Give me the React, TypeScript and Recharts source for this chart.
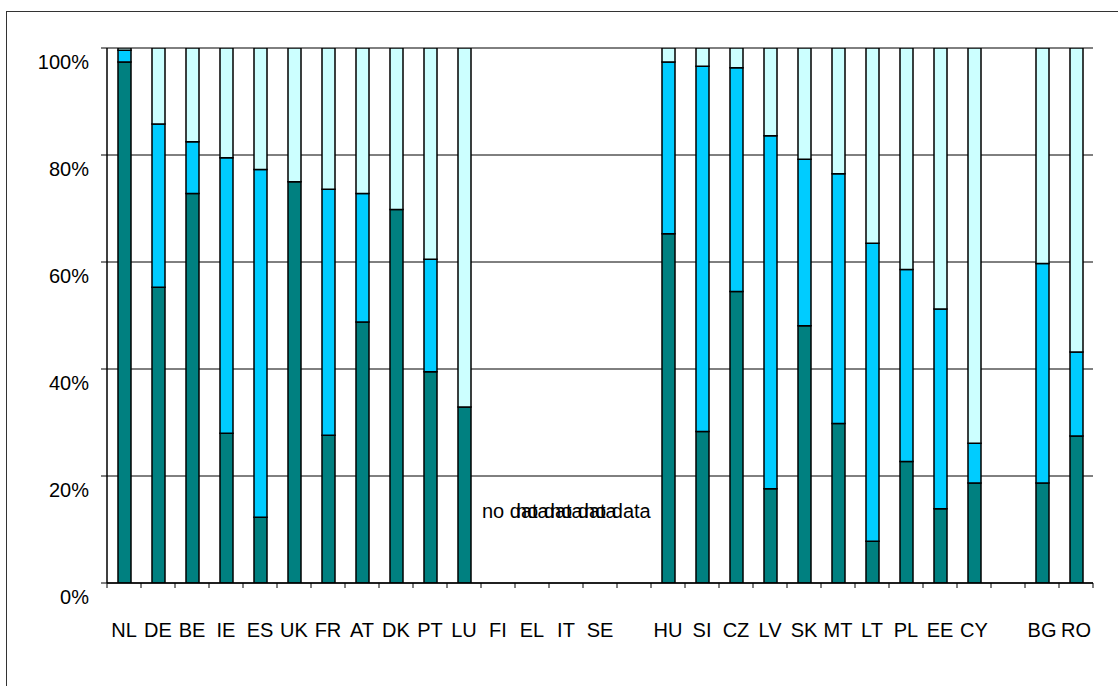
import { BarChart, Bar, XAxis, YAxis, CartesianGrid, ReferenceDot } from "recharts";

// country order as in the figure, "" = empty gap slot
const categories = [
  "NL", "DE", "BE", "IE", "ES", "UK", "FR", "AT", "DK", "PT", "LU", "FI", "EL", "IT", "SE",
  "",
  "HU", "SI", "CZ", "LV", "SK", "MT", "LT", "PL", "EE", "CY",
  "",
  "BG", "RO",
];

// shares in %, bottom -> top
const lower  = [97.4, 55.3, 72.8, 28.0, 12.3, 75.0, 27.6, 48.8, 69.8, 39.5, 32.9, 0, 0, 0, 0, 0, 65.3, 28.3, 54.5, 17.6, 48.1, 29.8, 7.8, 22.7, 13.9, 18.7, 0, 18.7, 27.5];
const middle = [2.2, 30.5, 9.7, 51.5, 65.0, 0, 46.0, 24.0, 0, 21.0, 0, 0, 0, 0, 0, 0, 32.1, 68.3, 41.8, 66.0, 31.1, 46.7, 55.7, 35.9, 37.3, 7.4, 0, 41.0, 15.7];
const upper  = [0.4, 14.2, 17.5, 20.5, 22.7, 25.0, 26.4, 27.2, 30.2, 39.5, 67.1, 0, 0, 0, 0, 0, 2.6, 3.4, 3.7, 16.4, 20.8, 23.5, 36.5, 41.4, 48.8, 73.9, 0, 40.3, 56.8];

const noDataCountries = ["FI", "EL", "IT", "SE"];
const noDataLevel = 13.5;

const yTicks = [0, 20, 40, 60, 80, 100];

const data = categories.map((name, i) => ({
  key: `${name || "gap"}-${i}`,
  name,
  lower: lower[i],
  middle: middle[i],
  upper: upper[i],
}));

const W = 1118;
const H = 686;
const M = { top: 48, right: 25, left: 0, bottom: 63 };
const Y_W = 107;
const SLOT = (W - M.left - M.right - Y_W) / categories.length;
const FONT = "'Liberation Sans', Arial, sans-serif";

function XTick(props: any) {
  const { x, y, payload, index, visibleTicksCount } = props;
  const label = categories[index] ?? "";
  const last = index === visibleTicksCount - 1;
  return (
    <g>
      <line x1={x - SLOT / 2} x2={x - SLOT / 2} y1={y} y2={y + 5} stroke="#000" />
      {last && <line x1={x + SLOT / 2} x2={x + SLOT / 2} y1={y} y2={y + 5} stroke="#000" />}
      <text x={x} y={y + 47} textAnchor="middle" dominantBaseline="central"
        fontFamily={FONT} fontSize={20} fill="#000" data-k={payload?.value}>
        {label}
      </text>
    </g>
  );
}

function YTick(props: any) {
  const { x, y, payload } = props;
  return (
    <text x={x} y={y + 14} textAnchor="end" dominantBaseline="central"
      fontFamily={FONT} fontSize={20} fill="#000">
      {`${payload.value}%`}
    </text>
  );
}

function NoDataLabel(props: any) {
  const { viewBox } = props;
  const cx = viewBox?.x ?? 0;
  const cy = viewBox?.y ?? 0;
  return (
    <text x={cx - 16} y={cy} textAnchor="start" dominantBaseline="central"
      fontFamily={FONT} fontSize={20} fill="#000">
      no data
    </text>
  );
}

export default function App() {
  return (
    <div style={{ position: "absolute", left: 0, top: 0, width: W, height: H, overflow: "hidden", background: "#fff" }}>
      <div style={{
        position: "absolute", left: 6, top: 11, width: 1300, height: 900,
        borderLeft: "1.5px solid #333", borderTop: "1.5px solid #333",
      }} />
      <div style={{ position: "absolute", left: 0, top: 0 }}>
        <BarChart width={W} height={H} data={data} margin={M} barSize={13}>
          <CartesianGrid vertical={false} stroke="#000" strokeWidth={1} />
          <XAxis dataKey="key" interval={0} tickLine={false} tickSize={0} tickMargin={0}
            axisLine={{ stroke: "#000", strokeWidth: 1.5 }} tick={<XTick />} height={40} />
          <YAxis domain={[0, 100]} ticks={yTicks} width={Y_W} tickSize={6} tickMargin={12}
            tickLine={{ stroke: "#000" }} axisLine={{ stroke: "#000", strokeWidth: 1.5 }}
            tick={<YTick />} allowDataOverflow />
          <YAxis yAxisId="frame" orientation="right" domain={[0, 100]} width={0}
            tick={false} tickLine={false} axisLine={{ stroke: "#000", strokeWidth: 1.5 }} />
          <Bar dataKey="lower" stackId="s" fill="#008080" stroke="#000" strokeWidth={1.5} isAnimationActive={false} />
          <Bar dataKey="middle" stackId="s" fill="#00CCFF" stroke="#000" strokeWidth={1.5} isAnimationActive={false} />
          <Bar dataKey="upper" stackId="s" fill="#CCFFFF" stroke="#000" strokeWidth={1.5} isAnimationActive={false} />
          {noDataCountries.map((c) => {
            const row = data.find((d) => d.name === c)!;
            return (
              <ReferenceDot key={c} x={row.key} y={noDataLevel} r={0} fill="none" stroke="none"
                ifOverflow="visible" label={<NoDataLabel />} />
            );
          })}
        </BarChart>
      </div>
    </div>
  );
}
